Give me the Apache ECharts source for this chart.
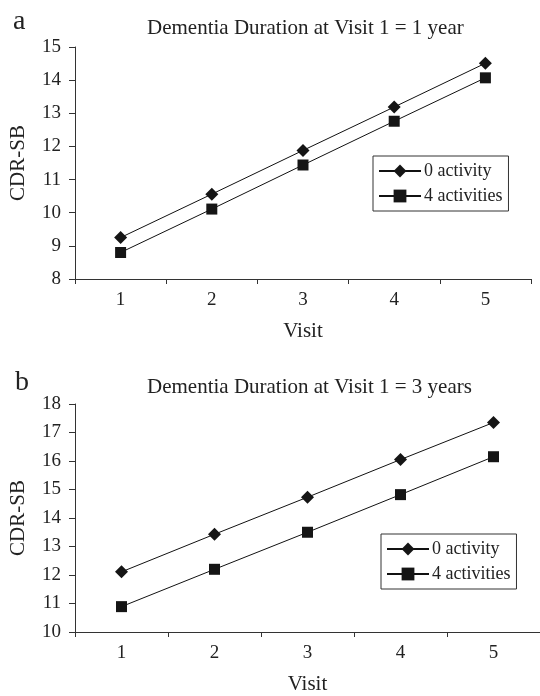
<!DOCTYPE html>
<html>
<head>
<meta charset="utf-8">
<script src="https://cdn.jsdelivr.net/npm/echarts@6/dist/echarts.min.js"></script>
<style>
html,body{margin:0;padding:0;background:#fff;}
#c{width:540px;height:696px;}
</style>
</head>
<body>
<div id="c"></div>
<script>
var visits = ['1', '2', '3', '4', '5'];
var seriesNames = ['0 activity', '4 activities'];
var panelA_zero = [9.25, 10.56, 11.88, 13.19, 14.51];
var panelA_four = [8.80, 10.11, 11.44, 12.76, 14.07];
var panelB_zero = [12.11, 13.43, 14.73, 16.05, 17.35];
var panelB_four = [10.89, 12.20, 13.50, 14.82, 16.15];
var titleA = 'Dementia Duration at Visit 1 = 1 year';
var titleB = 'Dementia Duration at Visit 1 = 3 years';

var FONT = '"Liberation Serif", "Times New Roman", serif';
var TXT = '#222';
var AX = '#333';

function xAxis(gi) {
  return {
    type: 'category', gridIndex: gi, data: visits, boundaryGap: true,
    name: 'Visit', nameLocation: 'middle', nameGap: 42,
    nameTextStyle: {fontFamily: FONT, fontSize: 21, color: TXT},
    axisLine: {lineStyle: {color: AX, width: 1}},
    axisTick: {show: true, inside: false, length: 5, lineStyle: {color: AX}, alignWithLabel: false},
    axisLabel: {fontFamily: FONT, fontSize: 19, color: TXT, margin: 12},
    splitLine: {show: false}
  };
}
function yAxis(gi, min, max) {
  return {
    type: 'value', gridIndex: gi, min: min, max: max, interval: 1,
    name: 'CDR-SB', nameLocation: 'middle', nameGap: 46, nameRotate: 90,
    nameTextStyle: {fontFamily: FONT, fontSize: 21, color: TXT},
    axisLine: {show: true, lineStyle: {color: AX, width: 1}},
    axisTick: {show: true, inside: false, length: 6, lineStyle: {color: AX}},
    axisLabel: {fontFamily: FONT, fontSize: 19, color: TXT, margin: 14},
    splitLine: {show: false}
  };
}
function line(name, data, gi, symbol, size) {
  return {
    type: 'line', name: name, data: data, xAxisIndex: gi, yAxisIndex: gi,
    symbol: symbol, symbolSize: size, showSymbol: true,
    lineStyle: {color: '#111', width: 1},
    itemStyle: {color: '#151515', borderWidth: 0},
    emphasis: {disabled: true},
    animation: false
  };
}
function legend(left, top) {
  return {
    orient: 'vertical', left: left, top: top, data: seriesNames,
    itemWidth: 42, itemHeight: 16, itemGap: 7,
    padding: [6, 6, 6, 5],
    borderColor: '#333', borderWidth: 1, backgroundColor: '#fff',
    textStyle: {fontFamily: FONT, fontSize: 18, color: TXT, padding: [0, 0, 0, -2]},
    selectedMode: false
  };
}

var chart = echarts.init(document.getElementById('c'), null, {renderer: 'canvas'});
chart.setOption({
  backgroundColor: '#fff',
  animation: false,
  title: [
    {text: 'a', left: 8, top: 3, textStyle: {fontFamily: FONT, fontSize: 28, fontWeight: 'normal', color: TXT}},
    {text: titleA, left: 142, top: 13, textStyle: {fontFamily: FONT, fontSize: 21, fontWeight: 'normal', color: TXT}},
    {text: 'b', left: 10, top: 364, textStyle: {fontFamily: FONT, fontSize: 28, fontWeight: 'normal', color: TXT}},
    {text: titleB, left: 142, top: 372, textStyle: {fontFamily: FONT, fontSize: 21, fontWeight: 'normal', color: TXT}}
  ],
  grid: [
    {left: 75, top: 47, width: 456, height: 232, containLabel: false},
    {left: 75, top: 404, width: 466, height: 230, containLabel: false}
  ],
  xAxis: [xAxis(0), xAxis(1)],
  yAxis: [yAxis(0, 8, 15), yAxis(1, 10, 18)],
  legend: [legend(373, 156), legend(381, 534)],
  series: [
    line(seriesNames[0], panelA_zero, 0, 'diamond', 13),
    line(seriesNames[1], panelA_four, 0, 'rect', 11),
    line(seriesNames[0], panelB_zero, 1, 'diamond', 13),
    line(seriesNames[1], panelB_four, 1, 'rect', 11)
  ]
});
</script>
</body>
</html>
